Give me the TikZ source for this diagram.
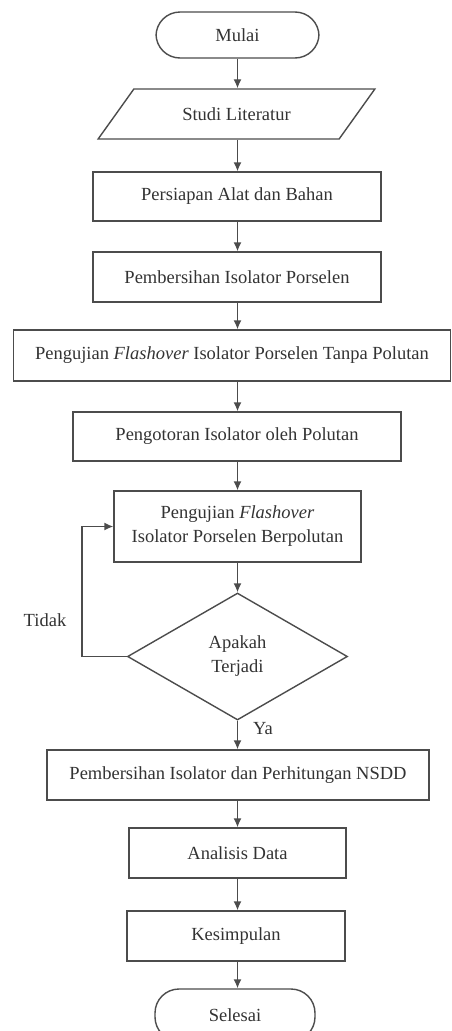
\documentclass[tikz,border=0pt]{standalone}
\usepackage{fontspec}
\setmainfont{Liberation Serif}
\usepackage{tikz}
\usetikzlibrary{shapes,shapes.geometric}
\usetikzlibrary{arrows.meta}
\definecolor{garisalur}{gray}{0.3}
\definecolor{teksalur}{gray}{0.2}
\tikzset{
	kotak/.style={draw=garisalur,line width=1.4pt,rectangle,minimum height=50pt,inner sep=2pt,text=teksalur,font=\fontsize{18.5pt}{24pt}\selectfont},
	terminal/.style={kotak,rounded corners=24pt},
	masukan/.style={kotak,trapezium,trapezium left angle=41,trapezium right angle=139,trapezium stretches=true},
	keputusan/.style={kotak,diamond,inner sep=0pt,align=center},
	panah/.style={draw=garisalur,line width=1.4pt,-{Latex[length=9pt,width=8pt]}},
	label/.style={text=teksalur,font=\fontsize{18.5pt}{24pt}\selectfont}
}
\begin{document}
\begin{tikzpicture}[x=1pt,y=-1pt]
			\useasboundingbox (0,0) rectangle (452,1031);
			\node[terminal,minimum width=163pt,minimum height=46pt] (mulai) at (237.5,35) {Mulai};
			\node[masukan,minimum width=277pt] (studi) at (236.5,114) {Studi Literatur};
			\node[kotak,minimum width=288pt,minimum height=49pt] (persiapan) at (237,196.5) {Persiapan Alat dan Bahan};
			\node[kotak,minimum width=288pt] (bersih) at (237,277) {Pembersihan Isolator Porselen};
			\node[kotak,minimum width=437pt,minimum height=51pt] (ujitanpa) at (232,355.5) {Pengujian \textit{Flashover} Isolator Porselen Tanpa Polutan};
			\node[kotak,minimum width=328pt,minimum height=49pt] (kotor) at (237,436.5) {Pengotoran Isolator oleh Polutan};
			\node[kotak,minimum width=247pt,minimum height=71pt,align=center] (ujipolutan) at (237.5,526.5) {Pengujian \textit{Flashover}\\Isolator Porselen Berpolutan};
			\node[keputusan,minimum width=220pt,minimum height=127pt] (terjadi) at (237.5,656.5) {Apakah\\Terjadi};
			\node[kotak,minimum width=382pt] (nsdd) at (238,775) {Pembersihan Isolator dan Perhitungan NSDD};
			\node[kotak,minimum width=217pt] (analisis) at (237.5,853) {Analisis Data};
			\node[kotak,minimum width=218pt] (simpulan) at (236,936) {Kesimpulan};
			\node[terminal,minimum width=160pt,minimum height=52pt] (selesai) at (235,1015) {Selesai};
			
			\node[label] (tidak) at (45,620) {Tidak};
			\node[label] (ya) at (263,729) {Ya};
			
			\coordinate (poros) at (237.5,0);
			\draw[panah] (poros|-mulai.south) -- (poros|-studi.north);
			\draw[panah] (poros|-studi.south) -- (poros|-persiapan.north);
			\draw[panah] (poros|-persiapan.south) -- (poros|-bersih.north);
			\draw[panah] (poros|-bersih.south) -- (poros|-ujitanpa.north);
			\draw[panah] (poros|-ujitanpa.south) -- (poros|-kotor.north);
			\draw[panah] (poros|-kotor.south) -- (poros|-ujipolutan.north);
			\draw[panah] (poros|-ujipolutan.south) -- (terjadi.north);
			\draw[panah] (terjadi.west) -- ++(-45,0) |- (ujipolutan.west);
			\draw[panah] (terjadi.south) -- (poros|-nsdd.north);
			\draw[panah] (poros|-nsdd.south) -- (poros|-analisis.north);
			\draw[panah] (poros|-analisis.south) -- (poros|-simpulan.north);
			\draw[panah] (poros|-simpulan.south) -- (poros|-selesai.north);
		\end{tikzpicture}
\end{document}
